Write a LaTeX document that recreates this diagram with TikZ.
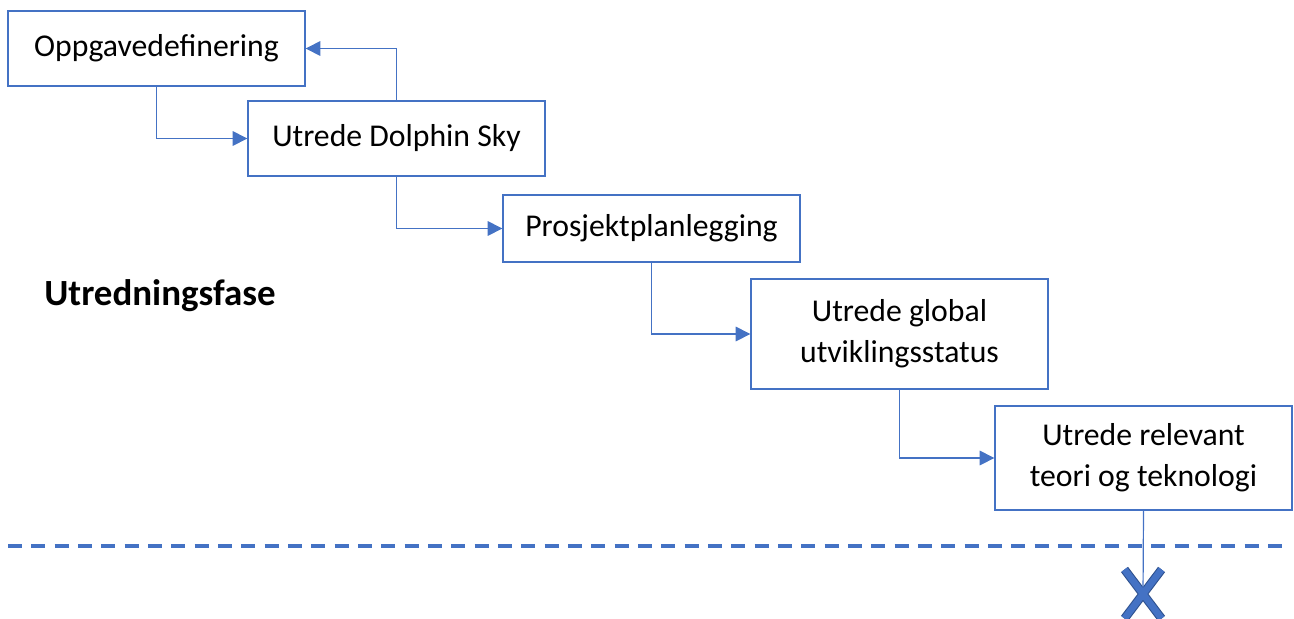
\documentclass[tikz,border=0pt]{standalone}
\usepackage{fontspec}
\setmainfont{Carlito}
\usepackage{xcolor}
\usepackage{tikz}
\usetikzlibrary{arrows.meta, positioning, shapes.misc}

\definecolor{officeblue}{HTML}{4472C4}
\definecolor{officedark}{HTML}{2F528F}

\begin{document}
\begin{tikzpicture}[
  x=0.75pt, y=-0.75pt,
  task/.style={
    rectangle,
    draw=officeblue,
    line width=1pt,
    fill=white,
    minimum width=222.75pt,
    inner sep=2pt,
    align=center,
    font=\fontsize{23.8}{30.8}\selectfont
  },
  arrow/.style={-{Triangle[length=11pt, width=11pt]}, line width=0.9pt, draw=officeblue},
  link/.style={line width=0.9pt, draw=officeblue}
]
\useasboundingbox (0,0) rectangle (1294,618);
\node[task, minimum height=56.25pt] (oppgave) at (156.5,48.5) {Oppgavedefinering};
\node[task, minimum height=56.25pt] (dolphin) at (396.5,138.5) {Utrede Dolphin Sky};
\node[task, minimum height=50.25pt] (plan) at (651.5,228.5) {Prosjektplanlegging};
\node[task, minimum height=82.5pt] (global) at (899.5,334) {Utrede global\\utviklingsstatus};
\node[task, minimum height=78pt] (teori) at (1143.5,458) {Utrede relevant\\teori og teknologi};
\node[font=\bfseries\fontsize{27.7}{33}\selectfont] (fase) at (160,296) {Utredningsfase};

% phase boundary
\coordinate (grenseA) at (8,546);
\coordinate (grenseB) at (1284,546);
\draw[officeblue, line width=3pt, dash pattern=on 10.5pt off 7pt] (grenseA) -- (grenseB);

\node[cross out, draw=officedark, line width=0.8pt, double=officeblue, double distance=5pt,
  minimum width=27pt, minimum height=36pt, inner sep=0pt] (stopp) at (1143,594) {};

\draw[arrow] (oppgave.south) |- (dolphin.west);
\draw[arrow] (dolphin.north) |- (oppgave.east);
\draw[arrow] (dolphin.south) |- (plan.west);
\draw[arrow] (plan.south) |- (global.west);
\draw[arrow] (global.south) |- (teori.west);
\draw[link] (teori.south) -- (stopp.center);
\end{tikzpicture}
\end{document}
